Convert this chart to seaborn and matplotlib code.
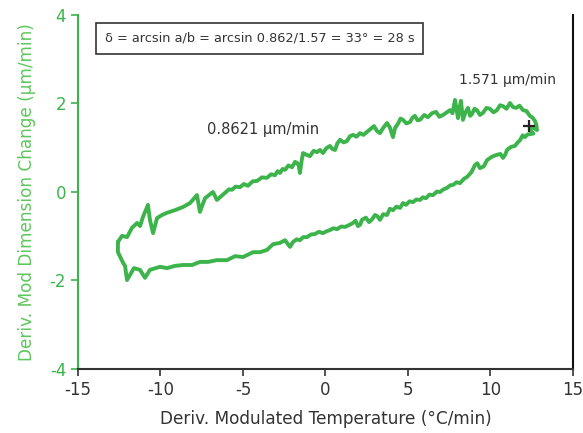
import matplotlib
matplotlib.use("Agg")
import matplotlib.pyplot as plt
import seaborn as sns
import pandas as pd

# Upper branch (left -> right)
upper_x = [-12.58, -12.33, -12.03, -11.73, -11.42, -11.24, -11.06, -10.76, -10.64, -10.45,
           -10.21, -9.91, -9.61, -9.12, -8.64, -8.21, -7.79, -7.61, -7.30, -6.82,
           -6.58, -6.09, -5.85, -5.67, -5.45, -5.18, -4.95, -4.70, -4.42, -4.15,
           -3.85, -3.55, -3.30, -3.06, -2.90, -2.76, -2.60, -2.45, -2.25, -2.03,
           -1.85, -1.73, -1.62, -1.55, -1.45, -1.36, -1.15, -0.94, -0.72, -0.52,
           -0.33, -0.15, 0.05, 0.27, 0.42, 0.58, 0.72, 0.88, 1.10, 1.30,
           1.48, 1.67, 1.88, 2.09, 2.30, 2.52, 2.72, 2.94, 3.12, 3.30,
           3.50, 3.73, 3.90, 4.09, 4.22, 4.39, 4.55, 4.70, 4.90, 5.12,
           5.27, 5.42, 5.58, 5.73, 5.98, 6.21, 6.45, 6.70, 6.90, 7.12,
           7.35, 7.55, 7.70, 7.85, 7.95, 8.03, 8.12, 8.21, 8.28, 8.33,
           8.48, 8.64, 8.76, 8.88, 9.03, 9.18, 9.36, 9.55, 9.76, 9.97,
           10.18, 10.39, 10.58, 10.76, 10.97, 11.18, 11.36, 11.55, 11.76, 11.97,
           12.18, 12.39, 12.55, 12.70, 12.78, 12.82, 12.52]
upper_y = [-1.13, -0.99, -1.02, -0.81, -0.70, -0.77, -0.56, -0.29, -0.63, -0.93,
           -0.59, -0.52, -0.47, -0.41, -0.34, -0.25, -0.07, -0.45, -0.14, 0.00,
           -0.18, -0.02, 0.06, 0.05, 0.12, 0.11, 0.18, 0.14, 0.24, 0.25,
           0.33, 0.32, 0.40, 0.38, 0.47, 0.43, 0.52, 0.50, 0.60, 0.56,
           0.68, 0.66, 0.60, 0.43, 0.70, 0.88, 0.84, 0.81, 0.93, 0.90,
           0.95, 0.88, 0.99, 1.04, 0.97, 0.95, 1.10, 1.18, 1.12, 1.15,
           1.26, 1.29, 1.25, 1.33, 1.29, 1.36, 1.42, 1.49, 1.38, 1.33,
           1.45, 1.56, 1.46, 1.24, 1.45, 1.54, 1.66, 1.63, 1.55, 1.58,
           1.68, 1.72, 1.62, 1.63, 1.74, 1.69, 1.78, 1.81, 1.70, 1.74,
           1.80, 1.85, 1.78, 2.08, 1.85, 1.67, 1.90, 2.06, 1.80, 1.63,
           1.80, 1.90, 1.72, 1.76, 1.88, 1.85, 1.74, 1.79, 1.90, 1.88,
           1.80, 1.85, 1.96, 1.94, 1.88, 2.01, 1.92, 1.90, 1.95, 1.85,
           1.83, 1.72, 1.68, 1.60, 1.52, 1.40, 1.47]

# Lower branch (right -> left)
lower_x = [12.39, 12.60, 12.25, 12.09, 11.95, 11.79, 11.65, 11.48, 11.25, 11.00,
           10.90, 10.76, 10.60, 10.39, 10.10, 9.79, 9.60, 9.36, 9.20, 9.06,
           8.85, 8.58, 8.40, 8.15, 7.95, 7.73, 7.55, 7.36, 7.15, 6.94,
           6.75, 6.52, 6.30, 6.09, 5.90, 5.73, 5.50, 5.30, 5.10, 4.88,
           4.70, 4.52, 4.30, 4.09, 3.90, 3.73, 3.50, 3.30, 3.15, 3.00,
           2.82, 2.64, 2.45, 2.21, 2.10, 1.97, 1.82, 1.67, 1.42, 1.18,
           0.95, 0.70, 0.48, 0.27, 0.05, -0.15, -0.40, -0.64, -0.88, -1.12,
           -1.35, -1.55, -1.75, -1.97, -2.15, -2.45, -2.76, -3.18, -3.55, -3.97,
           -4.39, -5.00, -5.48, -5.97, -6.58, -7.12, -7.61, -8.09, -8.64, -9.12,
           -9.61, -10.03, -10.64, -10.94, -11.24, -11.61, -12.03, -12.15, -12.27, -12.58,
           -12.58]
lower_y = [1.40, 1.32, 1.30, 1.24, 1.28, 1.17, 1.12, 1.04, 1.02, 0.95,
           0.85, 0.77, 0.86, 0.84, 0.80, 0.72, 0.58, 0.54, 0.65, 0.61,
           0.45, 0.34, 0.30, 0.20, 0.22, 0.16, 0.15, 0.09, 0.06, 0.00,
           0.01, -0.07, -0.06, -0.14, -0.12, -0.18, -0.17, -0.23, -0.21, -0.29,
           -0.25, -0.36, -0.33, -0.41, -0.38, -0.52, -0.50, -0.63, -0.55, -0.52,
           -0.62, -0.68, -0.58, -0.63, -0.74, -0.77, -0.65, -0.70, -0.75, -0.79,
           -0.78, -0.84, -0.82, -0.86, -0.89, -0.93, -0.90, -0.95, -0.96, -1.02,
           -1.02, -1.09, -1.07, -1.13, -1.24, -1.09, -1.15, -1.18, -1.31, -1.36,
           -1.36, -1.47, -1.45, -1.54, -1.54, -1.58, -1.58, -1.65, -1.65, -1.67,
           -1.72, -1.69, -1.76, -1.94, -1.76, -1.72, -1.99, -1.67, -1.60, -1.36,
           -1.13]

marker_x = [12.33]
marker_y = [1.49]

x_ticks = [-15, -10, -5, 0, 5, 10, 15]
y_ticks = [-4, -2, 0, 2, 4]

GREEN = "#3cb44b"
LABEL_GREEN = "#5cc65c"
DARK = "#333333"

sns.set_style("white")
plt.rcParams["font.family"] = ["DejaVu Sans"]

df = pd.DataFrame({
    "x": upper_x + lower_x,
    "y": upper_y + lower_y,
})

fig = plt.figure(figsize=(5.83, 4.33), dpi=100)
ax = fig.add_axes([0.1338, 0.1478, 0.849, 0.8176])

sns.lineplot(data=df, x="x", y="y", sort=False, estimator=None, color=GREEN,
             linewidth=2.8, ax=ax)
ax.plot(marker_x, marker_y, marker="+", color="#222222", markersize=9,
        markeredgewidth=1.6, linestyle="none")

ax.set_xlim(-15, 15)
ax.set_ylim(-4, 4)
ax.set_xticks(x_ticks)
ax.set_yticks(y_ticks)
ax.set_xticklabels([str(t) for t in x_ticks])
ax.set_yticklabels([str(t) for t in y_ticks])

ax.spines["top"].set_visible(False)
ax.spines["left"].set_color(GREEN)
ax.spines["left"].set_linewidth(1.5)
ax.spines["bottom"].set_color(DARK)
ax.spines["bottom"].set_linewidth(1.5)
ax.spines["right"].set_color("#111111")
ax.spines["right"].set_linewidth(1.5)

ax.tick_params(axis="y", colors=GREEN, direction="out", length=5, width=1.2,
               labelsize=12, left=True)
ax.tick_params(axis="x", colors=DARK, direction="out", length=5, width=1.2,
               labelsize=12, bottom=True)

ax.set_xlabel("Deriv. Modulated Temperature (°C/min)", fontsize=12.2,
              color=DARK, labelpad=8)
ax.set_ylabel("Deriv. Mod Dimension Change (μm/min)", fontsize=12.2,
              color=LABEL_GREEN, labelpad=10)

ax.text(-3.78, 1.42, "0.8621 μm/min", fontsize=10.5, color=DARK,
        ha="center", va="center")
ax.text(11.05, 2.53, "1.571 μm/min", fontsize=10, color=DARK,
        ha="center", va="center")
ax.text(-4.0, 3.47, "δ = arcsin a/b = arcsin 0.862/1.57 = 33° = 28 s",
        fontsize=9.3, color=DARK, ha="center", va="center",
        bbox=dict(boxstyle="square,pad=0.7", facecolor="white",
                  edgecolor=DARK, linewidth=1.2))

if ax.get_legend() is not None:
    ax.get_legend().remove()

fig.savefig("out.png", dpi=100)
